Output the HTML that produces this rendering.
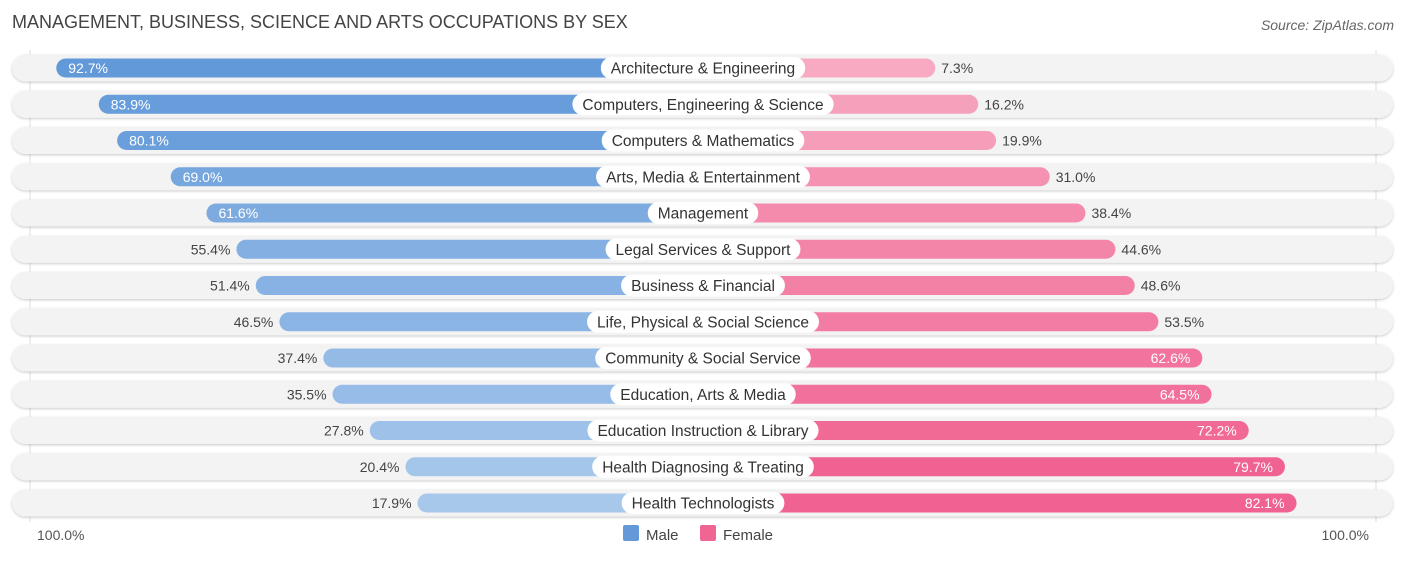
<!DOCTYPE html>
<html><head><meta charset="utf-8"><style>
body{margin:0;background:#fff;font-family:"Liberation Sans",sans-serif;}
svg text{font-family:"Liberation Sans",sans-serif;}
</style></head><body>
<svg id="c" width="1406" height="559">
<defs><filter id="sh" x="-5%" y="-30%" width="110%" height="160%"><feDropShadow dx="0" dy="1" stdDeviation="1.2" flood-color="#000" flood-opacity="0.22"/></filter></defs>
<text x="12" y="28" font-size="18" fill="#444">MANAGEMENT, BUSINESS, SCIENCE AND ARTS OCCUPATIONS BY SEX</text>
<text x="1394" y="30" font-size="14" fill="#666" text-anchor="end" font-style="italic">Source: ZipAtlas.com</text>
<line x1="30" y1="50" x2="30" y2="522" stroke="#ddd"/>
<line x1="1376" y1="50" x2="1376" y2="522" stroke="#ddd"/>
<g id="rows"></g>
<text x="37" y="540" font-size="14" fill="#555">100.0%</text>
<text x="1369" y="540" font-size="14" fill="#555" text-anchor="end">100.0%</text>
<rect x="623" y="525" width="16" height="16" rx="2" fill="#6399d9"/>
<text x="646" y="540" font-size="15" fill="#444">Male</text>
<rect x="700" y="525" width="16" height="16" rx="2" fill="#f06591"/>
<text x="723" y="540" font-size="15" fill="#444">Female</text>
</svg>
<script>
const categories=["Architecture & Engineering","Computers, Engineering & Science","Computers & Mathematics","Arts, Media & Entertainment","Management","Legal Services & Support","Business & Financial","Life, Physical & Social Science","Community & Social Service","Education, Arts & Media","Education Instruction & Library","Health Diagnosing & Treating","Health Technologists"];
const maleValues=[92.7,83.9,80.1,69.0,61.6,55.4,51.4,46.5,37.4,35.5,27.8,20.4,17.9];
const femaleValues=[7.3,16.2,19.9,31.0,38.4,44.6,48.6,53.5,62.6,64.5,72.2,79.7,82.1];
const NS="http://www.w3.org/2000/svg";
const cx=703, scale=4.83, male0=504, female0=900, y0=68, dy=36.25;
function mx(v){return male0-v*scale;}
function fx(v){return female0+v*scale;}
function mix(a,b,t){return "rgb("+a.map((c,i)=>Math.round(c+(b[i]-c)*t)).join(",")+")";}
const g=document.getElementById('rows');
function el(tag,attrs,parent){const e=document.createElementNS(NS,tag);for(const k in attrs)e.setAttribute(k,attrs[k]);parent.appendChild(e);return e;}
categories.forEach((cat,i)=>{
  const y=y0+i*dy;
  const row=el('g',{},g);
  
  
  const bg=el('rect',{x:12,y:y-13.5,width:1381,height:27,rx:13.5,fill:'#f3f3f3',filter:'url(#sh)'},row);
  
  
  const m=maleValues[i], f=femaleValues[i];
  const mc=mix([170,201,236],[97,153,217],Math.min(1,Math.max(0,(m-15)/75)));
  const fc=mix([247,172,196],[240,98,145],Math.min(1,Math.max(0,(f-5)/75)));
  const mb=el('rect',{x:mx(m),y:y-9.5,width:cx-mx(m),height:19,rx:9.5,fill:mc},row);
  
  
  const fb=el('rect',{x:cx,y:y-9.5,width:fx(f)-cx,height:19,rx:9.5,fill:fc},row);
  
  
  // category label
  const t=el('text',{x:cx,y:y+5.5,'font-size':15.5,fill:'#333','text-anchor':'middle'},row);
  t.textContent=cat;
  const w=t.getComputedTextLength()+20;
  const lb=el('rect',{x:cx-w/2,y:y-11,width:w,height:22,rx:11,fill:'#fff'},row);
  row.insertBefore(lb,t);
  
  
  
  
  const mIn=m>=60;
  const mt=el('text',{x:mIn?mx(m)+12:mx(m)-6,y:y+5,'font-size':14,fill:mIn?'#fff':'#444','text-anchor':mIn?'start':'end'},row);
  mt.textContent=m.toFixed(1)+"%";
  
  
  const fIn=f>=60;
  const ft=el('text',{x:fIn?fx(f)-12:fx(f)+6,y:y+5,'font-size':14,fill:fIn?'#fff':'#444','text-anchor':fIn?'end':'start'},row);
  ft.textContent=f.toFixed(1)+"%";
  
  
});
</script>
</body></html>
